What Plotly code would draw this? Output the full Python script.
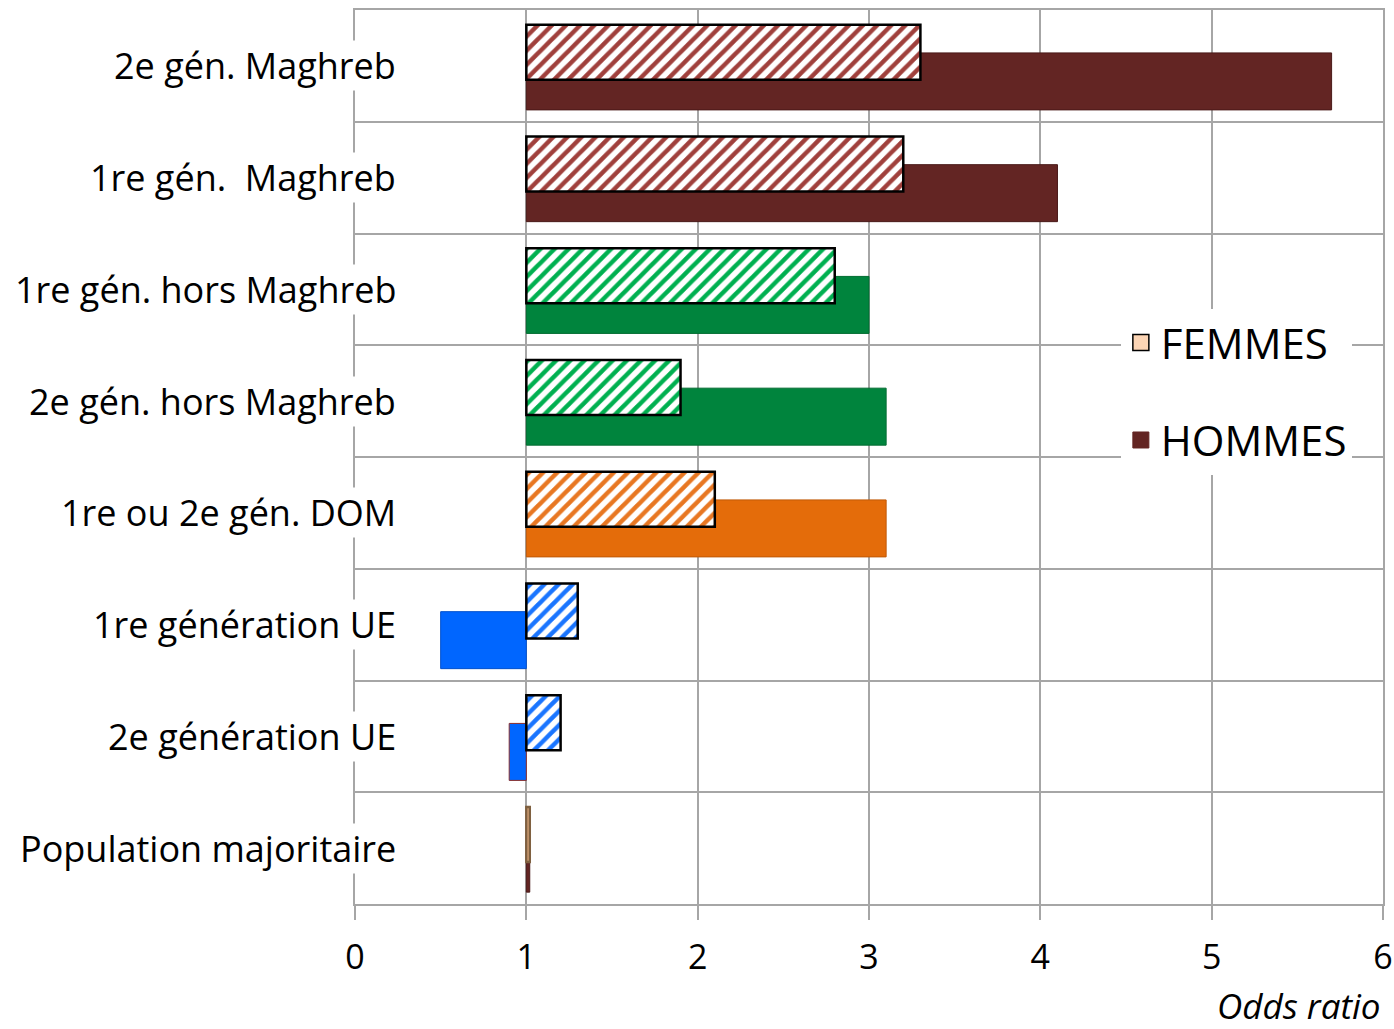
import plotly.graph_objects as go

categories = ["2e gén. Maghreb", "1re gén.  Maghreb", "1re gén. hors Maghreb",
              "2e gén. hors Maghreb", "1re ou 2e gén. DOM", "1re génération UE",
              "2e génération UE", "Population majoritaire"]
femmes = [3.3, 3.2, 2.8, 1.9, 2.1, 1.3, 1.2, 1.02]
hommes = [5.7, 4.1, 3.0, 3.1, 3.1, 0.5, 0.9, 1.02]
reference = 1.0
x_ticks = [0, 1, 2, 3, 4, 5, 6]

solid_colors = ["#632523", "#632523", "#00843D", "#00843D", "#E46C0A", "#0066FF", "#0066FF", "#632523"]
solid_lines = ["#4A1A19", "#4A1A19", "#006B30", "#006B30", "#C05A08", "#0050CC", "#8B2E2A", "#4A1A19"]
hatch_colors = ["#A0403C", "#A0403C", "#00B050", "#00B050", "#E87722", "#1A75FF", "#1A75FF", "#FAC090"]
backing_colors = ["white"] * 7 + ["#FAC090"]
hatch_shapes = ["/"] * 7 + [""]
hatch_lines = ["black"] * 7 + ["#7F6040"]
hatch_lw = 2.5

ypos = list(range(len(categories)))
font = "Open Sans, Lato, sans-serif"
grid = "#A6A6A6"
f_offset, f_width = -0.367, 0.492

fig = go.Figure()

fig.add_trace(go.Bar(
    orientation="h", y=ypos, x=[v - reference for v in hommes], base=reference,
    offset=-0.116, width=0.51,
    marker=dict(color=solid_colors, line=dict(color=solid_lines, width=1)),
    showlegend=False, name="HOMMES"))

# opaque backing for the hatched bars
fig.add_trace(go.Bar(
    orientation="h", y=ypos, x=[v - reference for v in femmes], base=reference,
    offset=f_offset, width=f_width,
    marker=dict(color=backing_colors, line=dict(width=0)),
    showlegend=False, hoverinfo="skip", name="FEMMES"))

fig.add_trace(go.Bar(
    orientation="h", y=ypos, x=[v - reference for v in femmes], base=reference,
    offset=f_offset, width=f_width,
    marker=dict(color=hatch_colors, line=dict(color=hatch_lines, width=hatch_lw),
                pattern=dict(shape=hatch_shapes, fillmode="replace", size=10, solidity=0.45)),
    showlegend=False, name="FEMMES"))

# legend entries
fig.add_trace(go.Scatter(x=[None], y=[None], mode="markers", name="FEMMES",
                         legendgroup="f",
                         marker=dict(symbol="square", size=16, color="#FCD5B5",
                                     line=dict(color="black", width=1.5))))
fig.add_trace(go.Scatter(x=[None], y=[None], mode="markers", name="HOMMES",
                         legendgroup="h",
                         marker=dict(symbol="square", size=16, color="#632523",
                                     line=dict(color="#632523", width=1))))

annotations = [dict(text=c, x=(397 - 355) / 1028, xref="paper", xanchor="right",
                    y=p, yref="y", yanchor="middle", showarrow=False,
                    bgcolor="white", borderpad=0,
                    font=dict(family=font, size=36, color="black"))
               for c, p in zip(categories, ypos)]
annotations.append(dict(text="<i>Odds ratio</i>", x=1, xref="paper", xanchor="right",
                        y=-0.114, yref="paper", yanchor="middle", showarrow=False,
                        font=dict(family=font, size=35, color="black")))

fig.update_layout(
    width=1394, height=1029,
    margin=dict(l=355, r=11, t=10, b=125),
    paper_bgcolor="white", plot_bgcolor="white",
    barmode="overlay",
    annotations=annotations,
    legend=dict(x=0.745, y=0.666, xanchor="left", yanchor="top", bgcolor="white",
                font=dict(family=font, size=42, color="black"),
                traceorder="grouped", tracegroupgap=40, itemwidth=30),
    xaxis=dict(range=[0, 6], tickvals=x_ticks, showgrid=True, gridcolor=grid, gridwidth=2,
               showline=True, linecolor=grid, linewidth=2, mirror=True,
               ticks="outside", ticklen=14, tickwidth=2, tickcolor=grid,
               ticklabelstandoff=8, automargin=False,
               tickfont=dict(family=font, size=34, color="black"), zeroline=False),
    yaxis=dict(range=[7.5, -0.5], tickvals=[i - 0.5 for i in range(len(categories) + 1)],
               showticklabels=False, showgrid=True, gridcolor=grid, gridwidth=2,
               showline=True, linecolor=grid, linewidth=2, mirror=True,
               ticks="", zeroline=False, automargin=False),
)

fig.write_html("out.html", config={"displayModeBar": False},
               post_script="document.body.style.margin='0';")
